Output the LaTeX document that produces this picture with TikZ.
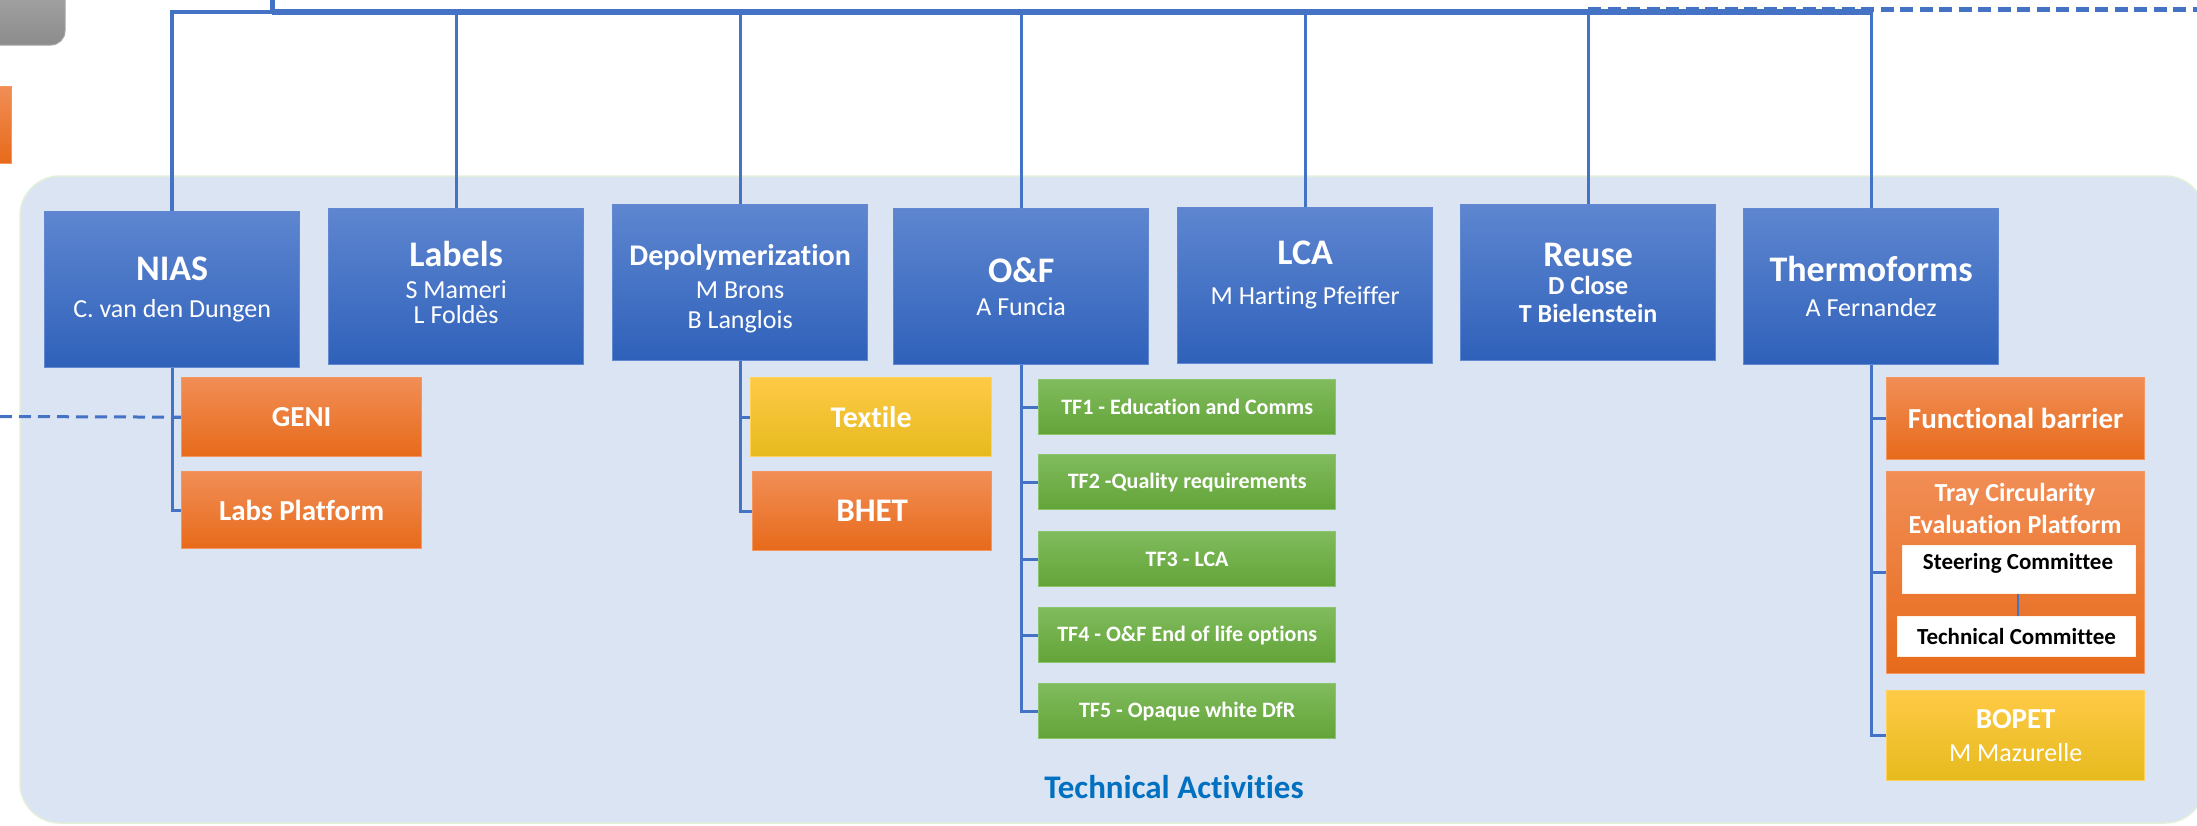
\documentclass[tikz,border=0pt]{standalone}
\usepackage{fontspec}
\setmainfont{Carlito}[Ligatures=NoCommon]
\newcommand\myfs[2]{\fontsize{#1pt}{#2pt}\selectfont}
\definecolor{bluetop}{RGB}{94,134,208}
\definecolor{bluebot}{RGB}{47,97,186}
\definecolor{bluebd}{RGB}{98,136,210}
\definecolor{ortop}{RGB}{241,142,86}
\definecolor{orbot}{RGB}{231,106,26}
\definecolor{orbd}{RGB}{244,150,96}
\definecolor{yetop}{RGB}{255,202,70}
\definecolor{yebot}{RGB}{230,186,30}
\definecolor{yebd}{RGB}{255,210,90}
\definecolor{grtop}{RGB}{128,187,93}
\definecolor{grbot}{RGB}{99,164,56}
\definecolor{grbd}{RGB}{140,196,108}
\definecolor{lineblue}{RGB}{68,114,196}
\definecolor{bgfill}{RGB}{219,228,243}
\definecolor{bgedge}{RGB}{226,239,218}
\definecolor{grtop2}{RGB}{172,172,172}
\definecolor{grbot2}{RGB}{140,140,140}
\definecolor{actblue}{RGB}{0,112,192}
\tikzset{
  box/.style={anchor=north west, inner sep=0pt, align=center, text=white, line width=1.3pt},
  bluebox/.style={box, draw=bluebd, top color=bluetop, bottom color=bluebot, minimum width=255pt, minimum height=156pt},
  btext/.style={text=white, align=center, inner sep=0pt, font={\myfs{26}{30}}},
  orbox/.style={box, draw=orbd, top color=ortop, bottom color=orbot},
  yebox/.style={box, draw=yebd, top color=yetop, bottom color=yebot},
  grbox/.style={box, draw=grbd, top color=grtop, bottom color=grbot, minimum width=297pt, minimum height=55pt, font={\bfseries\myfs{22}{26}}},
  whbox/.style={anchor=north west, inner sep=0pt, fill=white, draw=white!90!orange, line width=1pt, align=center, text=black, font={\bfseries\myfs{23}{27}}},
  conn/.style={draw=lineblue, line width=3pt},
  mainline/.style={draw=lineblue, line width=6pt},
  topdash/.style={draw=lineblue, line width=5pt, dash pattern=on 13pt off 6.5pt},
  leftdash/.style={draw=lineblue, line width=3pt, dash pattern=on 12pt off 7pt}
}
\begin{document}
\begin{tikzpicture}[x=1pt,y=-1pt]
\useasboundingbox (0,0) rectangle (2197,825);
% background panel
\path[fill=bgfill, draw=bgedge, line width=1.5pt, rounded corners=40pt] (20,176) rectangle (2205,823);
% partial shapes at the left edge
\path[top color=grtop2, bottom color=grbot2, draw=gray!70, line width=1pt, rounded corners=14pt] (-30,-30) rectangle (65,45);
\path[top color=ortop, bottom color=orbot, draw=orbd, line width=1pt] (-30,86) rectangle (11,163);

% top level boxes
\node[bluebox] (nias) at (44,211) {};
\node[bluebox] (labels) at (328,208) {};
\node[bluebox] (depol) at (612,204) {};
\node[bluebox] (of) at (893,208) {};
\node[bluebox] (lca) at (1177,207) {};
\node[bluebox] (reuse) at (1460,204) {};
\node[bluebox] (thermo) at (1743,208) {};

\node[btext] (niasT) at (nias.center) {{\bfseries\myfs{36}{40}NIAS}\\[7pt]C. van den Dungen};
\node[btext, font={\myfs{26}{25}}, yshift=4.5pt] (labelsT) at (labels.center) {{\bfseries\myfs{36}{40}Labels}\\[7pt]S Mameri\\L Foldès};
\node[btext, yshift=-6pt] (depolT) at (depol.center) {{\bfseries\myfs{30}{34}Depolymerization}\\[3pt]M Brons\\B Langlois};
\node[btext] (ofT) at (of.center) {{\bfseries\myfs{36}{40}O\&F}\\[3pt]A Funcia};
\node[btext, yshift=10.5pt] (lcaT) at (lca.center) {{\bfseries\myfs{36}{40}LCA}\\[10pt]M Harting Pfeiffer};
\node[btext, font={\bfseries\myfs{26}{28}}] (reuseT) at (reuse.center) {{\myfs{36}{40}Reuse}\\[0pt]D Close\\T Bielenstein};
\node[btext] (thermoT) at (thermo.center) {{\bfseries\myfs{36}{40}Thermoforms}\\[5pt]A Fernandez};

% top connectors
\coordinate (hup) at (272,-5);
\coordinate (hmain) at (272,11.5);
\coordinate (dR) at (2197,9);
\draw[conn, line width=5pt] (hup) -- (hmain);
\draw[mainline] (hmain) -- (thermo.north |- hmain);
\draw[topdash] (reuse.north |- dR) -- (dR);
\draw[conn, line width=4pt] (nias.north) |- (hmain);
\foreach \b in {labels,depol,of,lca,reuse,thermo}{
  \draw[conn] (\b.north) -- (\b.north |- hmain);
}

% NIAS children
\node[orbox, minimum width=240pt, minimum height=79pt, font={\bfseries\myfs{29}{33}}] (geni) at (181,377) {GENI};
\node[orbox, minimum width=240pt, minimum height=77pt, font={\bfseries\myfs{29}{33}}] (labsp) at (181,471) {Labs Platform};
\coordinate (lftd) at (0,416.5);
\draw[leftdash] (lftd) -- (geni.west);
\draw[conn] (nias.south) |- (labsp.west);
\draw[conn] (nias.south) |- (geni.west);

% Depolymerization children
\node[yebox, minimum width=241pt, minimum height=79pt, font={\bfseries\myfs{30}{34}}] (textile) at (750,377) {Textile};
\node[orbox, minimum width=239pt, minimum height=79pt, font={\bfseries\myfs{33}{37}}] (bhet) at (752,471) {BHET};
\draw[conn] (depol.south) |- (bhet.west);
\draw[conn] (depol.south) |- (textile.west);

% O&F children
\node[grbox] (tf1) at (1038,379) {TF1 - Education and Comms};
\node[grbox] (tf2) at (1038,454) {TF2 -Quality requirements};
\node[grbox] (tf3) at (1038,531) {TF3 - LCA};
\node[grbox] (tf4) at (1038,607) {TF4 - O\&F End of life options};
\node[grbox] (tf5) at (1038,683) {TF5 - Opaque white DfR};
\foreach \t in {tf1,tf2,tf3,tf4,tf5}{
  \draw[conn] (of.south) |- (\t.west);
}

% Thermoforms children
\node[orbox, minimum width=258pt, minimum height=82pt, font={\bfseries\myfs{29}{33}}] (fb) at (1886,377) {Functional barrier};
\node[orbox, minimum width=258pt, minimum height=202pt] (tray) at (1886,471) {};
\node[text=white, align=center, font={\bfseries\myfs{26}{32}}] (trayT) at (2015,508) {Tray Circularity\\Evaluation Platform};
\node[whbox, minimum width=233pt, minimum height=48pt] (steer) at (1902,545) {};
\node[text=black, font={\bfseries\myfs{23}{27}}] (steerT) at (2018,563) {Steering Committee};
\node[whbox, minimum width=238pt, minimum height=40pt] (tech) at (1897,616) {Technical Committee};
\draw[conn, line width=2.5pt] (steer.south -| steerT) -- (tech.north -| steerT);
\node[yebox, minimum width=258pt, minimum height=90pt, font={\myfs{26}{30}}] (bopet) at (1886,690) {{\bfseries\myfs{29}{33}BOPET}\\[3pt]M Mazurelle};
\draw[conn] (thermo.south) |- (bopet.west);
\draw[conn] (thermo.south) |- (tray.west);
\draw[conn] (thermo.south) |- (fb.west);

% caption
\node[text=actblue, font={\bfseries\myfs{33}{37}}] (techact) at (1174,787) {Technical Activities};
\end{tikzpicture}
\end{document}
